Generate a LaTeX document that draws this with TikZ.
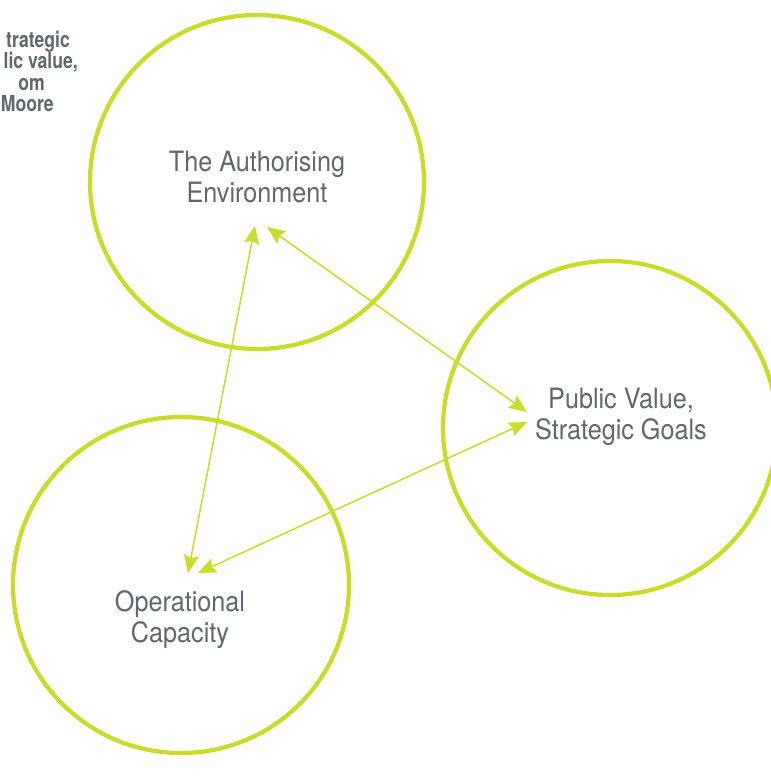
\documentclass[tikz,border=0pt]{standalone}
\usepackage{fontspec}
\setmainfont{TeX Gyre Heros}
\newfontfamily\lblfont[FakeStretch=0.9]{TeX Gyre Heros}
\newfontfamily\capfont[FakeStretch=0.8]{TeX Gyre Heros}
\usetikzlibrary{arrows.meta}
\definecolor{lime}{RGB}{200,220,40}
\definecolor{txtgray}{RGB}{95,104,110}
\tikzset{
  ring/.style={draw=lime, line width=4.2pt},
  lbl/.style={align=center, text=txtgray, font=\lblfont\fontsize{28}{31}\selectfont, inner sep=0pt},
  captxt/.style={anchor=base east, text=txtgray, font=\capfont\bfseries\fontsize{22}{22}\selectfont, inner sep=0pt},
  link/.style={draw=lime, line width=1.5pt, {Stealth[length=18pt,width=15pt,inset=3pt]}-{Stealth[length=18pt,width=15pt,inset=3pt]}}
}
\begin{document}
\begin{tikzpicture}[x=1pt,y=-1pt]
\useasboundingbox (0,0) rectangle (771,780);
\begin{scope}
\clip (0,0) rectangle (771,780);
\draw[ring] (257,182) circle[radius=167];
\draw[ring] (610,428) circle[radius=167];
\draw[ring] (181,585) circle[radius=168];
\node[captxt] (c1) at (70,47) {trategic};
\node[captxt] (c2) at (78,68) {lic value,};
\node[captxt] (c3) at (45,90) {om};
\node[captxt] (c4) at (54,111) {Moore};
\end{scope}
\node[lbl] (ae) at (257,177) {The Authorising\\Environment};
\node[lbl] (pv) at (621,417) {Public Value,\\Strategic Goals};
\node[lbl] (oc) at (180,620) {Operational\\Capacity};
\coordinate (aeA) at (255,226);
\coordinate (aeB) at (267,227);
\coordinate (pvA) at (527,412);
\coordinate (pvB) at (527,422);
\coordinate (ocA) at (188,573);
\coordinate (ocB) at (198,573);
\draw[link] (aeA) -- (ocA);
\draw[link] (aeB) -- (pvA);
\draw[link] (pvB) -- (ocB);
\end{tikzpicture}
\end{document}
